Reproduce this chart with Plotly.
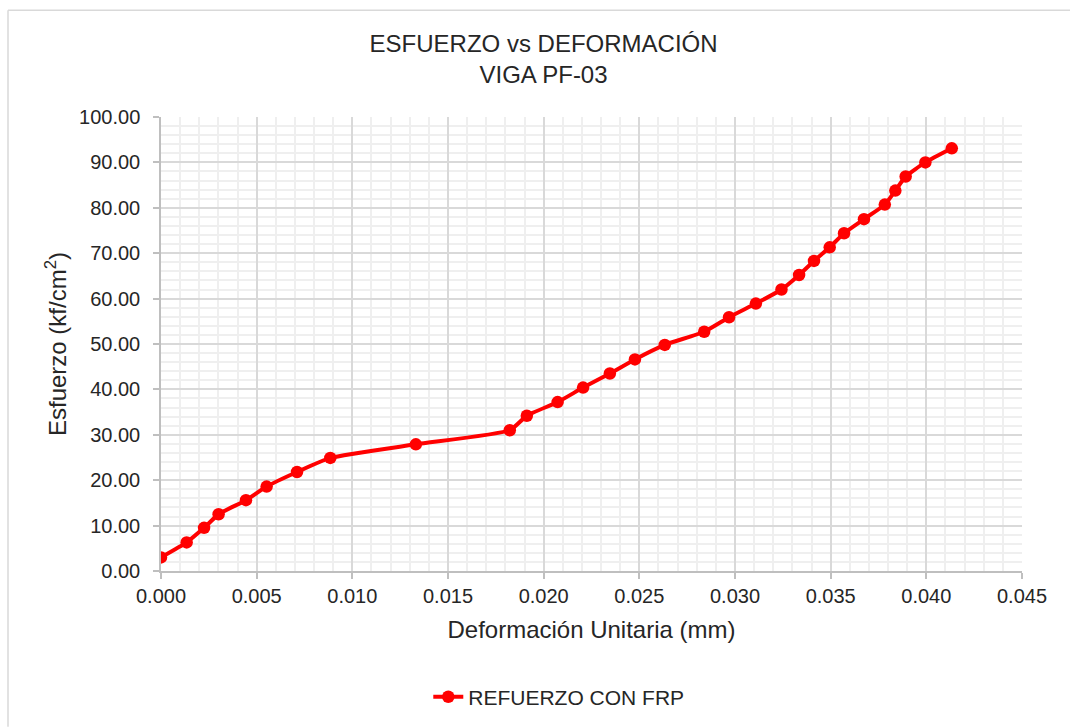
import plotly.graph_objects as go

deformacion = [0.0, 0.00134, 0.00225, 0.00301, 0.00444, 0.00552, 0.00711, 0.00885,
               0.01332, 0.01823, 0.01912, 0.02073, 0.02206, 0.02346, 0.02477, 0.02633,
               0.02839, 0.02969, 0.03109, 0.03243, 0.03335, 0.03413, 0.03495, 0.03570,
               0.03674, 0.03783, 0.03838, 0.03892, 0.03995, 0.04133]
esfuerzo = [3.0, 6.3, 9.5, 12.5, 15.6, 18.6, 21.8, 24.9,
            27.9, 31.0, 34.2, 37.2, 40.4, 43.5, 46.6, 49.8,
            52.7, 55.9, 58.9, 62.0, 65.2, 68.3, 71.3, 74.4,
            77.5, 80.7, 83.8, 86.9, 90.0, 93.1]
serie = "REFUERZO CON FRP"
titulo = "ESFUERZO vs DEFORMACIÓN<br>VIGA PF-03"
x_titulo = "Deformación Unitaria (mm)"
y_titulo = "Esfuerzo (kf/cm<sup>2</sup>)"

W, H = 1070, 728
L, R, T, B = 161, 48, 117, 156
FONT = "Liberation Sans, Arial, sans-serif"

fig = go.Figure()
fig.add_trace(go.Scatter(
    x=deformacion, y=esfuerzo, mode="lines+markers", name=serie,
    line=dict(color="#ff0000", width=4, shape="spline", smoothing=0.5),
    marker=dict(color="#ff0000", size=12.5),
))

pw, ph = W - L - R, H - T - B
bx = (8 - L) / pw
by = (H - B - 10) / ph
right_edge = (W - L) / pw
bottom_edge = -B / ph

fig.update_layout(
    width=W, height=H,
    margin=dict(l=L, r=R, t=T, b=B),
    paper_bgcolor="white", plot_bgcolor="white",
    font=dict(family=FONT, color="#262626"),
    title=dict(text=titulo, x=0.508, xanchor="center", y=0.929, yanchor="top",
               font=dict(size=24, color="#262626", family=FONT)),
    showlegend=True,
    legend=dict(orientation="h", x=0.462, xanchor="center", y=-0.275, yanchor="middle",
                font=dict(size=21, color="#262626", family=FONT)),
    xaxis=dict(range=[0, 0.045], dtick=0.005, tick0=0, tickformat=".3f",
               showgrid=True, gridcolor="#d9d9d9", gridwidth=1.5,
               minor=dict(dtick=0.001, showgrid=True, gridcolor="#efefef", gridwidth=1.5),
               showline=True, linecolor="#bfbfbf", linewidth=1.5,
               ticks="outside", ticklen=6, tickcolor="#bfbfbf", tickwidth=1.5,
               tickfont=dict(size=20, color="#262626"),
               title=dict(text=x_titulo, font=dict(size=24, color="#262626"), standoff=15),
               zeroline=False),
    yaxis=dict(range=[0, 100], dtick=10, tick0=0, tickformat=".2f",
               showgrid=True, gridcolor="#d9d9d9", gridwidth=1.5,
               minor=dict(dtick=2, showgrid=True, gridcolor="#efefef", gridwidth=1.5),
               showline=True, linecolor="#bfbfbf", linewidth=1.5,
               ticks="outside", ticklen=6, tickcolor="#bfbfbf", tickwidth=1.5,
               ticklabelstandoff=9,
               tickfont=dict(size=20, color="#262626"),
               title=dict(text=y_titulo, font=dict(size=24, color="#262626"), standoff=6),
               zeroline=False),
    shapes=[
        dict(type="line", xref="paper", yref="paper", x0=bx, x1=bx, y0=by, y1=bottom_edge,
             line=dict(color="#d9d9d9", width=1.5)),
        dict(type="line", xref="paper", yref="paper", x0=bx, x1=right_edge, y0=by, y1=by,
             line=dict(color="#d9d9d9", width=1.5)),
    ],
)

fig.write_html(
    "out.html", config={"displayModeBar": False},
    post_script=("document.body.style.margin='0px';"
                 "document.body.style.overflow='hidden';"
                 "document.documentElement.style.overflow='hidden';"),
)
